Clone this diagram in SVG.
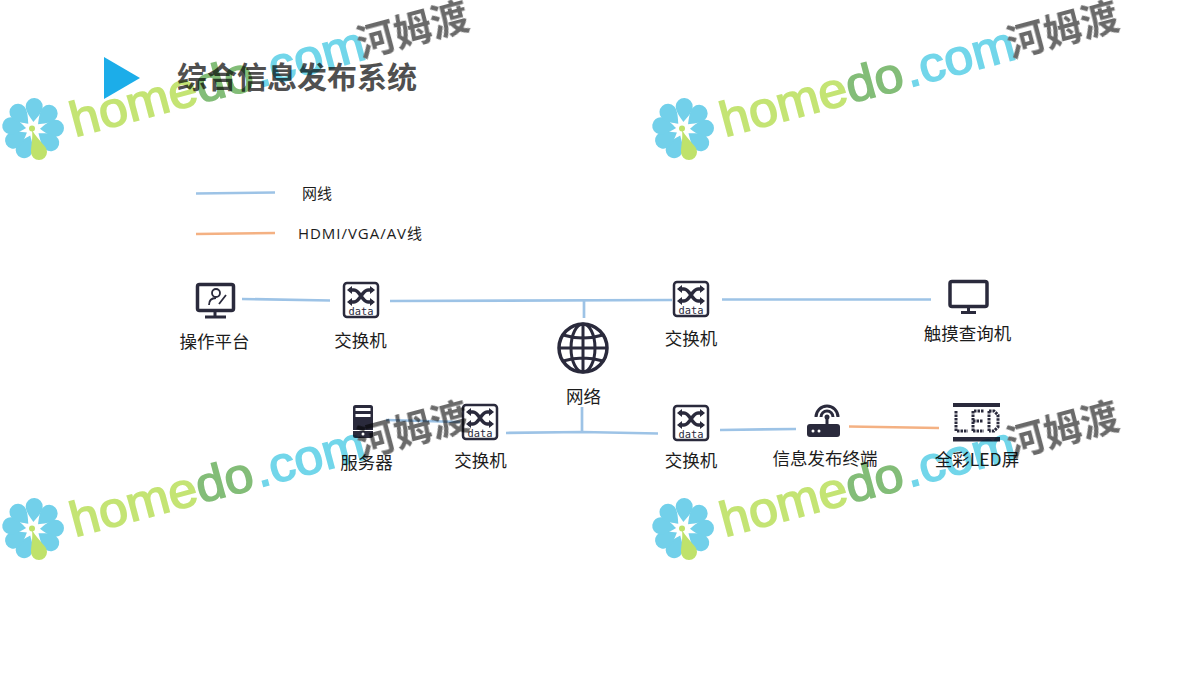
<svg xmlns="http://www.w3.org/2000/svg" xmlns:xlink="http://www.w3.org/1999/xlink" width="1200" height="675" viewBox="0 0 1200 675">
<style>
text{font-family:"Noto Sans CJK SC","Microsoft YaHei",sans-serif}
.lbl{font-size:17.5px;fill:#1c1c1c;text-anchor:middle}
.leg{font-size:15px;fill:#1c1c1c}
.blue{stroke:#9dc3e6;stroke-width:2.700;fill:none}
.org{stroke:#f4b183;stroke-width:2.700;fill:none}
.ic{fill:none;stroke:#2a2a3c;stroke-width:3}
.icf{fill:#2a2a3c}
.pet{fill:#72d0ea}
.wm{mix-blend-mode:multiply}
.wt{font-family:"Liberation Sans",sans-serif;font-size:49px;stroke-width:1.500px}
.wc{font-family:"Noto Sans CJK SC",sans-serif;font-size:38px;font-weight:700;fill:#6a6a6a}
</style>
<defs>
<path id="p" d="M0-7C3-11 8.500-17 8.500-22.500A8.500 8.500 0 0 0-8.500-22.500C-8.500-17-3-11 0-7Z"/>
<g id="sw">
<rect x="-17" y="-17" width="34" height="34" rx="3" fill="none" stroke="#2a2a3c" stroke-width="2.500"/>
<path d="M-12-10H-7C-1-10 1 2 7 2H12M-12 2H-7C-1 2 1-10 7-10H12" fill="none" stroke="#2a2a3c" stroke-width="3.500"/>
<path d="M-14-10L-9-14V-6ZM-14 2L-9-2V6ZM14-10L9-14V-6ZM14 2L9-2V6Z" class="icf"/>
<text x="0" y="14.500" text-anchor="middle" style="font-family:'DejaVu Sans Mono',monospace;font-size:10.400px;fill:#2a2a3c">data</text>
</g>
<g id="wmk" class="wm">
<use xlink:href="#p" class="pet" transform="translate(33 129) rotate(3)"/>
<use xlink:href="#p" class="pet" transform="translate(33 129) rotate(46)"/>
<use xlink:href="#p" class="pet" transform="translate(33 129) rotate(88)"/>
<use xlink:href="#p" class="pet" transform="translate(33 129) rotate(128)"/>
<use xlink:href="#p" class="pet" transform="translate(33 129) rotate(203)"/>
<use xlink:href="#p" class="pet" transform="translate(33 129) rotate(240)"/>
<use xlink:href="#p" class="pet" transform="translate(33 129) rotate(278)"/>
<use xlink:href="#p" class="pet" transform="translate(33 129) rotate(318)"/>
<circle cx="32" cy="128.500" r="3" fill="#bfe26b"/>
<path d="M32 130C33 138 31 146 31 152A8 8 0 0 0 47 152C47 146 40 143 32 130Z" fill="#bfe26b"/>
<g transform="translate(75 137) rotate(-15)">
<g transform="scale(1.060 1)"><text class="wt" x="0" y="0"><tspan fill="#c4e474" stroke="#c4e474">home</tspan><tspan fill="#83bd78" stroke="#83bd78">do</tspan><tspan fill="#72d6ea" stroke="#72d6ea" dx="3">.com</tspan></text></g>
<text class="wc" x="297" y="-3">河姆渡</text>
</g>
</g>
</defs>
<rect width="1200" height="675" fill="#fff"/>
<g id="title">
<polygon points="104,57 140,78 104,99" fill="#1cade9"/>
<text x="177" y="88" style="font-size:30px;font-weight:700;fill:#505050">综合信息发布系统</text>
</g>
<g id="legend">
<text class="leg" x="302" y="199">网线</text>
<text class="leg" x="298" y="239" textLength="124" lengthAdjust="spacing" style="font-family:'Open Sans','Noto Sans CJK SC',sans-serif">HDMI/VGA/AV线</text>
</g>
<g id="connectors">
<path class="blue" d="M196 193.500L275 192.500"/>
<path class="org" d="M196 234L275 233"/>
<path class="blue" d="M242 299L330 300.500"/>
<path class="blue" d="M390 301L672 300"/>
<path class="blue" d="M584 300V318"/>
<path class="blue" d="M722 299.500H931"/>
<path class="blue" d="M386 420L460 422"/>
<path class="blue" d="M506 433L582 432L658 433.500"/>
<path class="blue" d="M582 407V432"/>
<path class="blue" d="M720 430L796 429"/>
<path class="org" d="M849 426.500L939 428"/>
</g>
<g id="node-console">
<rect x="197.500" y="284.500" width="36" height="26" rx="2" fill="none" stroke="#2a2a3c" stroke-width="3.500"/>
<path d="M215 310V316M205 317H226" class="ic"/>
<circle cx="216" cy="293" r="4" fill="none" stroke="#2a2a3c" stroke-width="1.800"/>
<path d="M209 305C209 300 212 298 216 298M219 304L226 295" fill="none" stroke="#2a2a3c" stroke-width="1.800"/>
<text class="lbl" x="214.500" y="348">操作平台</text>
</g>
<g id="node-switch1">
<use xlink:href="#sw" transform="translate(361 300)"/>
<text class="lbl" x="360.500" y="347">交换机</text>
</g>
<g id="node-switch2">
<use xlink:href="#sw" transform="translate(691 299)"/>
<text class="lbl" x="691" y="345">交换机</text>
</g>
<g id="node-network">
<circle cx="583" cy="348" r="24" fill="none" stroke="#2a2a3c" stroke-width="3.500"/>
<ellipse cx="583" cy="348" rx="12" ry="24" fill="none" stroke="#2a2a3c" stroke-width="3"/>
<path d="M583 324V372M559 348H607M563 335Q583 341 603 335M563 361Q583 355 603 361" fill="none" stroke="#2a2a3c" stroke-width="3"/>
<text class="lbl" x="583.500" y="403">网络</text>
</g>
<g id="node-kiosk">
<rect x="950" y="281.500" width="37" height="25" rx="2" fill="none" stroke="#2a2a3c" stroke-width="3.500"/>
<path d="M968.500 307V312M961 312.500H976" class="ic"/>
<text class="lbl" x="967.500" y="340">触摸查询机</text>
</g>
<g id="node-server">
<rect x="353" y="405" width="20" height="33" rx="2.500" class="icf"/>
<rect x="355.500" y="408" width="15" height="3" fill="#fff"/>
<rect x="355.500" y="414" width="15" height="3" fill="#fff"/>
<path d="M353 430.500H373" stroke="#fff" stroke-width="1"/>
<circle cx="363" cy="434" r="1.500" fill="#fff"/>
<text class="lbl" x="366.500" y="469">服务器</text>
</g>
<g id="node-switch3">
<use xlink:href="#sw" transform="translate(480 422)"/>
<text class="lbl" x="480.500" y="467">交换机</text>
</g>
<g id="node-switch4">
<use xlink:href="#sw" transform="translate(691 423)"/>
<text class="lbl" x="691" y="467">交换机</text>
</g>
<g id="node-terminal">
<rect x="807" y="424" width="33" height="13" rx="3" class="icf"/>
<circle cx="813" cy="431" r="1.500" fill="#fff"/><circle cx="819" cy="431" r="1.500" fill="#fff"/>
<path d="M827 424V417" fill="none" stroke="#2a2a3c" stroke-width="3"/>
<circle cx="827" cy="417" r="2.500" class="icf"/>
<path d="M821 417A6 6 0 0 1 833 417M816 417A11 11 0 0 1 838 417" fill="none" stroke="#2a2a3c" stroke-width="3"/>
<text class="lbl" x="825" y="465">信息发布终端</text>
</g>
<g id="node-led">
<rect x="953" y="403" width="47" height="4" class="icf"/>
<rect x="953" y="437" width="47" height="4.500" class="icf"/>
<path d="M956 411V431H968M973 431V411H984M973 421H983M973 431H984M989 411V431M989 411H994L998 415V427L994 431H989" fill="none" stroke="#2a2a3c" stroke-width="3" stroke-dasharray="2.500 1"/>
<text class="lbl" x="977" y="466">全彩LED屏</text>
</g>
<g id="watermarks">
<use xlink:href="#wmk"/>
<use xlink:href="#wmk" x="650"/>
<use xlink:href="#wmk" y="400"/>
<use xlink:href="#wmk" x="650" y="400"/>
</g>
</svg>
